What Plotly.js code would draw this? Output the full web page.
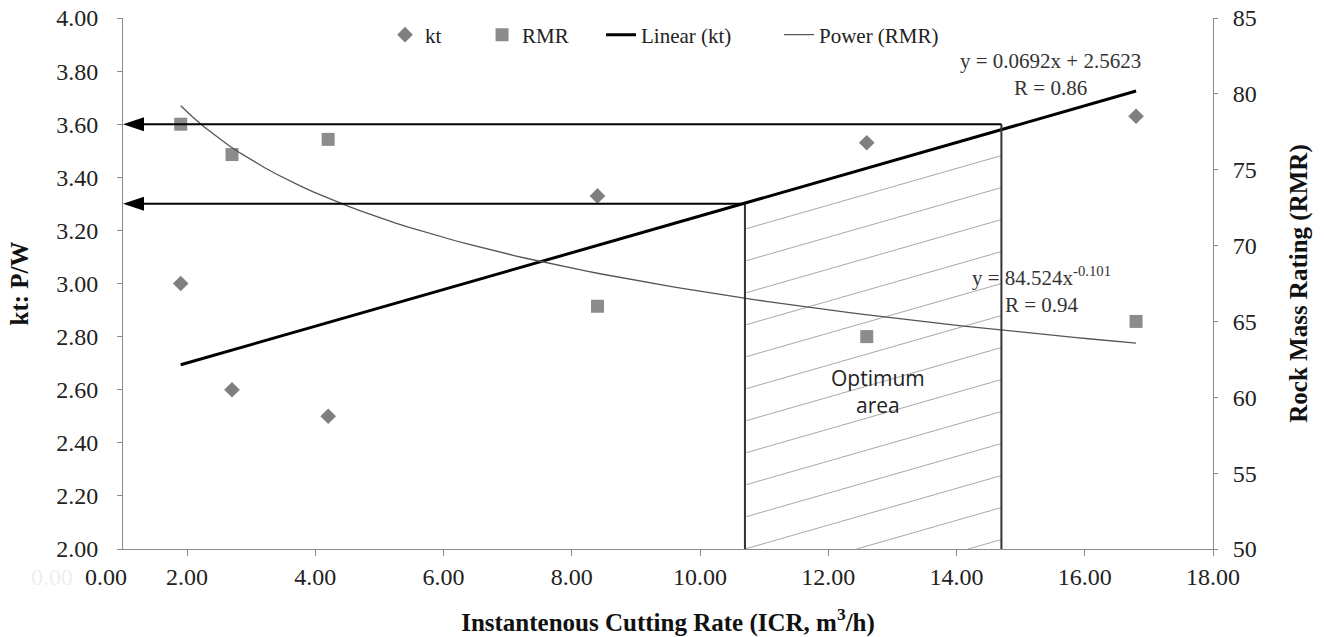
<!DOCTYPE html>
<html>
<head>
<meta charset="utf-8">
<script src="https://cdn.plot.ly/plotly-3.0.1.min.js"></script>
<style>html,body{margin:0;padding:0;background:#fff;}#chart{width:1324px;height:637px;}</style>
</head>
<body>
<div id="chart"></div>
<script>
// ---- data ----
const icrX = [1.9, 2.7, 4.2, 8.4, 12.6, 16.8];
const ktValues = [3.00, 2.60, 2.50, 3.33, 3.53, 3.63];
const rmrValues = [78, 76, 77, 66, 64, 65];
const linearSlope = 0.0692, linearIntercept = 2.5623;   // y = 0.0692x + 2.5623
const powerCoef = 84.524, powerExp = -0.101;             // y = 84.524x^-0.101
const optimumX = [10.7, 14.7];
const optimumKt = [3.30, 3.60];
const xTickVals = [2, 4, 6, 8, 10, 12, 14, 16, 18];
const ktTickVals = [2.0, 2.2, 2.4, 2.6, 2.8, 3.0, 3.2, 3.4, 3.6, 3.8, 4.0];
const rmrTickVals = [50, 55, 60, 65, 70, 75, 80, 85];

const xRange = [1, 18];
const SERIF = 'Liberation Serif, Times New Roman, serif';

// trend lines from the equations displayed on the chart
const xStart = icrX[0], xEnd = icrX[icrX.length - 1];
const linX = [xStart, xEnd];
const linY = linX.map(x => linearSlope * x + linearIntercept);
const powX = [], powY = [];
for (let i = 0; i <= 80; i++) {
  const x = xStart + (xEnd - xStart) * i / 80;
  powX.push(x); powY.push(powerCoef * Math.pow(x, powerExp));
}

const traces = [
  {x: icrX, y: ktValues, name: 'kt', type: 'scatter', mode: 'markers',
   marker: {symbol: 'diamond', size: 12, color: '#7f7f7f'}, legend: 'legend'},
  {x: icrX, y: rmrValues, name: 'RMR', type: 'scatter', mode: 'markers', yaxis: 'y2',
   marker: {symbol: 'square', size: 13, color: '#8c8c8c'}, legend: 'legend2'},
  {x: linX, y: linY, name: 'Linear (kt)', type: 'scatter', mode: 'lines',
   line: {color: '#000', width: 3}, legend: 'legend3'},
  {x: powX, y: powY, name: 'Power (RMR)', type: 'scatter', mode: 'lines', yaxis: 'y2',
   line: {color: '#555', width: 1.3}, legend: 'legend4'}
];

// hatching of the optimum area (parallel to the linear trend)
const shapes = [];
const hatchStep = 0.1205;
const xL = optimumX[0], xR = optimumX[1];
for (let k = -4; k <= 20; k++) {
  const yL = ktTickVals[0] + k * hatchStep;
  if (yL >= optimumKt[0] - 0.02) break;
  const yR = yL + linearSlope * (xR - xL);
  if (yR <= ktTickVals[0]) continue;
  let x0 = xL, y0 = yL;
  if (yL < ktTickVals[0]) { x0 = xL + (ktTickVals[0] - yL) / linearSlope; y0 = ktTickVals[0]; }
  shapes.push({type: 'line', xref: 'x', yref: 'y', x0: x0, y0: y0, x1: xR, y1: yR,
               line: {color: '#a8a8a8', width: 1}, layer: 'below'});
}
// vertical bounds
shapes.push({type: 'line', xref: 'x', yref: 'y', x0: xL, x1: xL, y0: ktTickVals[0], y1: optimumKt[0], line: {color: '#333', width: 2}});
shapes.push({type: 'line', xref: 'x', yref: 'y', x0: xR, x1: xR, y0: ktTickVals[0], y1: optimumKt[1], line: {color: '#333', width: 2}});
// horizontal arrows to the kt axis
[[xL, optimumKt[0]], [xR, optimumKt[1]]].forEach(([xe, yv]) => {
  shapes.push({type: 'line', xref: 'x', yref: 'y', x0: xRange[0] + 0.25, x1: xe, y0: yv, y1: yv, line: {color: '#000', width: 2}});
  shapes.push({type: 'path', xref: 'x', yref: 'y', xsizemode: 'pixel', ysizemode: 'pixel',
               xanchor: xRange[0], yanchor: yv, path: 'M0,0 L21,7 L21,-7 Z',
               fillcolor: '#000', line: {width: 0}});
});

const annFont = {family: SERIF, size: 21, color: '#333'};
const annotations = [
  {xref: 'x', yref: 'y', x: 15.46, y: 3.787, text: 'y = 0.0692x + 2.5623<br>R = 0.86',
   showarrow: false, font: annFont, align: 'center'},
  {xref: 'x', yref: 'y', x: 15.32, y: 2.976, text: 'y = 84.524x<sup>-0.101</sup><br>R = 0.94',
   showarrow: false, font: annFont, align: 'center'},
  {xref: 'x', yref: 'y', x: 12.78, y: 2.595, text: 'Optimum<br>area', showarrow: false,
   font: {family: 'Open Sans, Noto Sans, sans-serif', size: 21, color: '#222'}, align: 'center'},
  {xref: 'paper', yref: 'paper', x: -0.0156, y: -0.0527, text: '0.00', showarrow: false,
   font: {family: SERIF, size: 24, color: '#222'}, xanchor: 'center', yanchor: 'middle'},
  {xref: 'paper', yref: 'paper', x: -0.065, y: -0.0527, text: '0.00', showarrow: false,
   font: {family: SERIF, size: 24, color: '#efefef'}, xanchor: 'center', yanchor: 'middle'}
];

const legendBase = {orientation: 'h', yanchor: 'middle', y: 0.968, xanchor: 'left',
  bgcolor: 'rgba(0,0,0,0)', font: {family: SERIF, size: 21, color: '#222'}};

const layout = {
  width: 1324, height: 637,
  margin: {l: 123, r: 111, t: 18, b: 88},
  paper_bgcolor: '#fff', plot_bgcolor: '#fff',
  font: {family: SERIF, color: '#222'},
  showlegend: true,
  legend: Object.assign({}, legendBase, {x: 0.2404}),
  legend2: Object.assign({}, legendBase, {x: 0.3294}),
  legend3: Object.assign({}, legendBase, {x: 0.4385}),
  legend4: Object.assign({}, legendBase, {x: 0.6018}),
  xaxis: {
    range: xRange, tickvals: xTickVals, tickformat: '.2f', showgrid: false, zeroline: false,
    showline: true, linecolor: '#8c8c8c', linewidth: 1, ticks: 'outside', ticklen: 6,
    tickcolor: '#8c8c8c', tickfont: {family: SERIF, size: 24, color: '#222'},
    title: {text: '<b>Instantenous Cutting Rate (ICR, m<sup>3</sup>/h)</b>',
            font: {family: SERIF, size: 25, color: '#111'}, standoff: 25}
  },
  yaxis: {
    range: [2, 4], tickvals: ktTickVals, tickformat: '.2f', showgrid: false, zeroline: false,
    showline: true, linecolor: '#8c8c8c', linewidth: 1, ticks: 'outside', ticklen: 5,
    tickcolor: '#8c8c8c', tickfont: {family: SERIF, size: 24, color: '#222'},
    ticklabelstandoff: 14,
    title: {text: '<b>kt: P/W</b>', font: {family: SERIF, size: 25, color: '#111'}, standoff: 20}
  },
  yaxis2: {
    range: [50, 85], tickvals: rmrTickVals, overlaying: 'y', side: 'right',
    showgrid: false, zeroline: false, showline: true, linecolor: '#8c8c8c', linewidth: 1,
    ticks: 'outside', ticklen: 4, tickcolor: '#8c8c8c',
    tickfont: {family: SERIF, size: 24, color: '#222'}, ticklabelstandoff: 10,
    title: {text: '<b>Rock Mass Rating (RMR)</b>', font: {family: SERIF, size: 25, color: '#111'}, standoff: 33}
  },
  shapes: shapes,
  annotations: annotations
};

Plotly.newPlot('chart', traces, layout, {displayModeBar: false, staticPlot: true});
</script>
</body>
</html>
